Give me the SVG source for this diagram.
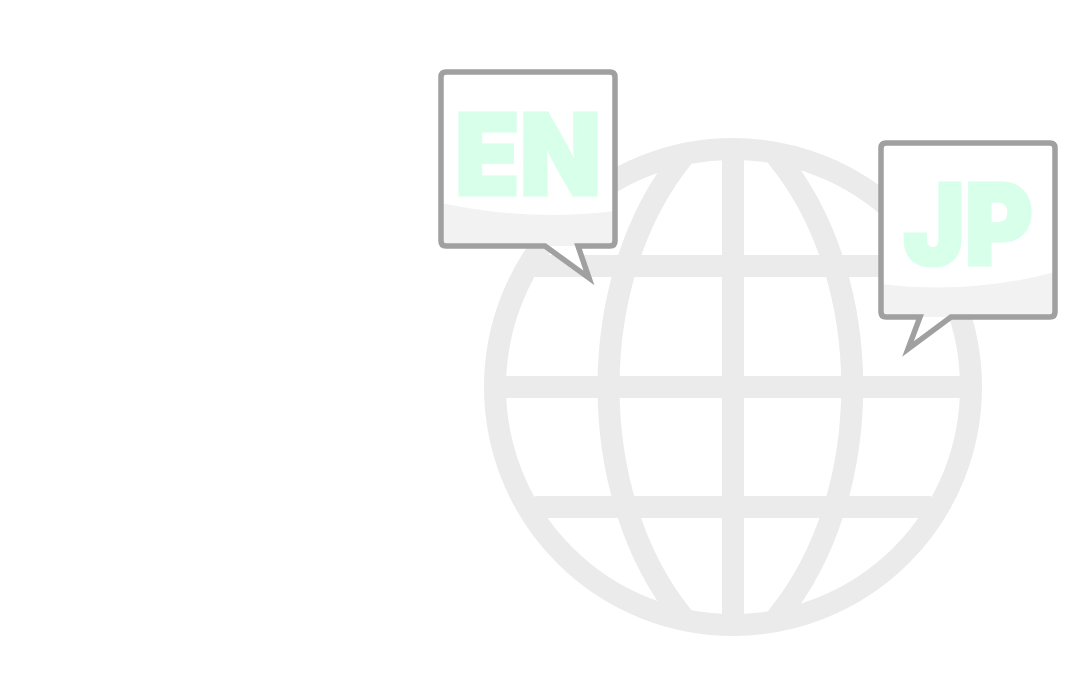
<svg xmlns="http://www.w3.org/2000/svg" width="1080" height="700" viewBox="0 0 1080 700">
<style>
.g{fill:none;stroke:#ebebeb;stroke-width:22}
.f{fill:#fff}
.o{fill:none;stroke:#a0a0a0;stroke-width:5.5;stroke-linejoin:miter;stroke-miterlimit:10}
.s{fill:#f2f2f2}
.t{font-family:"Inter","Liberation Sans",sans-serif;font-weight:900;font-size:113px;fill:#d7ffea;stroke:#d7ffea;stroke-width:3}
</style>
<rect width="1080" height="700" fill="#fff"/>
<g id="globe">
<circle class="g" cx="733" cy="387" r="238"/>
<path class="g" d="M733 149V625M535 266H931M496 387H970M535 507H931"/>
<path class="g" d="M688 150L682 158C584 280 584 494 682 616L688 624M772 150L778 158C877 280 877 494 778 616L772 624"/>
</g>
<g id="bubble-en">
<path class="f" d="M446 72H610Q615 72 615 77V241Q615 246 610 246H578L589 278L545 246H446Q441 246 441 241V77Q441 72 446 72Z"/>
<path class="s" d="M441 203Q530 222 615 211V241Q615 246 610 246H446Q441 246 441 241Z"/>
<text class="t" x="455" y="194.500" textLength="146" lengthAdjust="spacingAndGlyphs">EN</text>
<path class="o" d="M446 72H610Q615 72 615 77V241Q615 246 610 246H578L589 278L545 246H446Q441 246 441 241V77Q441 72 446 72Z"/>
</g>
<g id="bubble-jp">
<path class="f" d="M886 143H1050Q1055 143 1055 148V312Q1055 317 1050 317H951L908 349L920 317H886Q881 317 881 312V148Q881 143 886 143Z"/>
<path class="s" d="M881 284Q970 295 1055 272V312Q1055 317 1050 317H886Q881 317 881 312Z"/>
<text class="t" x="903" y="264.500" textLength="130" lengthAdjust="spacingAndGlyphs">JP</text>
<path class="o" d="M886 143H1050Q1055 143 1055 148V312Q1055 317 1050 317H951L908 349L920 317H886Q881 317 881 312V148Q881 143 886 143Z"/>
</g>
</svg>
